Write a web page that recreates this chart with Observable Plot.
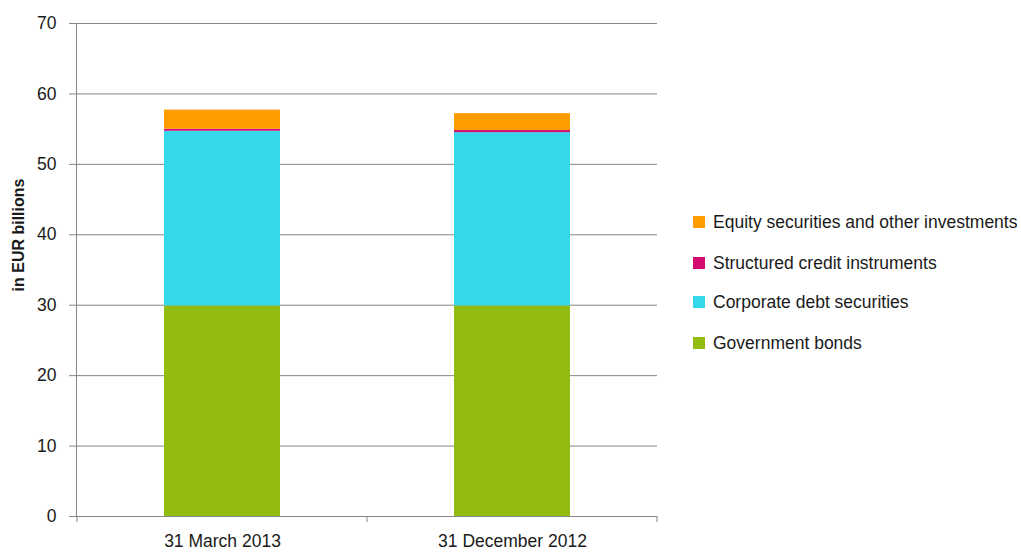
<!DOCTYPE html>
<html><head><meta charset="utf-8">
<script src="https://cdn.jsdelivr.net/npm/d3@7"></script>
<script src="https://cdn.jsdelivr.net/npm/@observablehq/plot@0.6"></script>
<style>
body{margin:0;background:#fff;font-family:"Liberation Sans",Arial,sans-serif;}
#wrap{position:relative;width:1021px;height:552px;}
.item{position:absolute;left:693px;white-space:nowrap;font-size:17.5px;line-height:20px;height:20px;color:#1a1a1a;display:flex;align-items:center}
.sw{width:12px;height:12px;margin-right:8px;flex:none}
</style></head><body><div id="wrap"></div>
<script>
const dates = ["31 March 2013", "31 December 2012"];
const series = ["Government bonds", "Corporate debt securities", "Structured credit instruments", "Equity securities and other investments"];
const colors = ["#92bc10", "#35d8ea", "#d60b6f", "#ff9c00"];
const governmentBonds = [29.9, 29.9];
const corporateDebt = [24.8, 24.6];
const structuredCredit = [0.3, 0.3];
const equity = [2.7, 2.4];
const yTicks = [0, 10, 20, 30, 40, 50, 60, 70];
const yLabel = "in EUR billions";

const values = [governmentBonds, corporateDebt, structuredCredit, equity];
const data = [];
series.forEach((s, i) => dates.forEach((d, j) => data.push({date: d, series: s, value: values[i][j]})));

const axisColor = "#868686";
const plot = Plot.plot({
  width: 1021, height: 552,
  marginLeft: 76, marginRight: 364, marginTop: 23, marginBottom: 36,
  style: {fontFamily: "'Liberation Sans', Arial, sans-serif", fontSize: "17.5px", color: "#1a1a1a", background: "#fff"},
  x: {domain: dates, paddingInner: 0.6, paddingOuter: 0.3, label: null},
  y: {domain: [0, 70], label: null},
  color: {domain: series, range: colors},
  marks: [
    Plot.gridY(yTicks, {stroke: axisColor, strokeOpacity: 1}),
    Plot.barY(data, {x: "date", y: "value", fill: "series", order: series}),
    Plot.ruleY([0], {stroke: axisColor}),
    Plot.frame({anchor: "left", stroke: axisColor}),
    Plot.axisY(yTicks, {tickSize: 7, stroke: axisColor, tickPadding: 13, label: null, fill: "#1a1a1a"}),
    Plot.axisX({tickSize: 0, tickPadding: 18, label: null, fill: "#1a1a1a"})
  ]
});

const wrap = document.getElementById("wrap");
wrap.appendChild(plot);

// band boundary ticks on x axis
const xs = plot.scale("x");
const ys = plot.scale("y");
const step = xs.step, bw = xs.bandwidth;
const gap = (step - bw) / 2;
const bounds = [xs.apply(dates[0]) - gap].concat(dates.map(d => xs.apply(d) + bw + gap));
const svg = d3.select(plot);
const y0 = ys.apply(0);
svg.append("g").selectAll("line").data(bounds).join("line")
  .attr("x1", d => d).attr("x2", d => d)
  .attr("y1", y0).attr("y2", y0 + 6)
  .attr("stroke", axisColor);

// y label
svg.append("text")
  .attr("transform", `translate(24,235) rotate(-90)`)
  .attr("text-anchor", "middle")
  .attr("font-weight", "bold")
  .attr("font-size", 16)
  .attr("fill", "#1a1a1a")
  .text(yLabel);

// legend (reverse order)
const legendCenters = [222, 263, 302, 343];
series.slice().reverse().forEach((s, i) => {
  const item = document.createElement("div");
  item.className = "item";
  item.style.top = (legendCenters[i] - 10) + "px";
  const sw = document.createElement("span");
  sw.className = "sw";
  sw.style.background = colors[series.length - 1 - i];
  const t = document.createElement("span");
  t.textContent = s;
  item.appendChild(sw); item.appendChild(t);
  wrap.appendChild(item);
});
</script></body></html>
